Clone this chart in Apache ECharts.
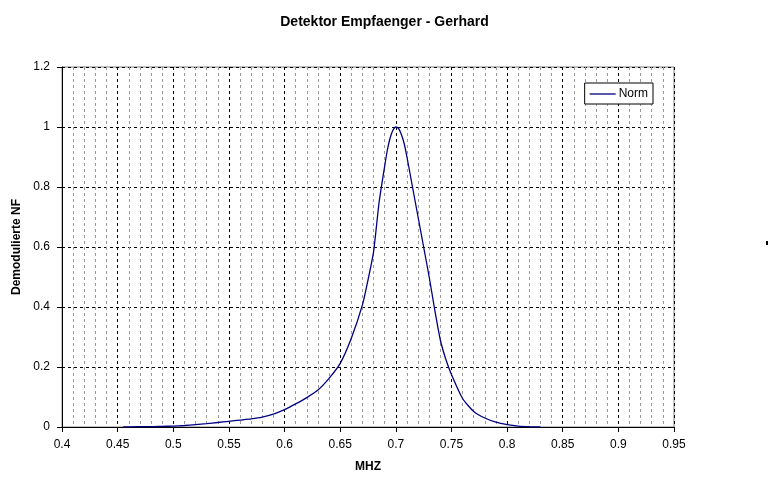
<!DOCTYPE html>
<html>
<head>
<meta charset="utf-8">
<title>Detektor Empfaenger - Gerhard</title>
<script src="https://cdn.jsdelivr.net/npm/echarts@6/dist/echarts.min.js"></script>
<style>
  html, body { margin: 0; padding: 0; background: #fff; }
  #chart { width: 769px; height: 490px; }
</style>
</head>
<body>
<div id="chart"></div>
<script>
// frequency in MHz
const freq = [0.455, 0.47, 0.48, 0.49, 0.5, 0.51, 0.52, 0.53, 0.54, 0.55, 0.56, 0.57, 0.58, 0.59,
  0.6, 0.61, 0.62, 0.63, 0.64, 0.65, 0.66, 0.67, 0.675, 0.68, 0.685, 0.69, 0.6925, 0.695, 0.6975,
  0.7, 0.7025, 0.705, 0.7075, 0.71, 0.715, 0.72, 0.725, 0.73, 0.735, 0.74, 0.745, 0.75, 0.76,
  0.77, 0.78, 0.79, 0.8, 0.81, 0.82, 0.83]
// normalised demodulated NF
const norm = [0, 0.001, 0.001, 0.002, 0.003, 0.005, 0.008, 0.011, 0.015, 0.019, 0.023, 0.027, 0.033, 0.043,
  0.058, 0.077, 0.098, 0.123, 0.162, 0.212, 0.296, 0.407, 0.49, 0.584, 0.75, 0.87, 0.925, 0.965, 0.99,
  1.0, 0.995, 0.975, 0.945, 0.9, 0.8, 0.7, 0.6, 0.5, 0.39, 0.29, 0.225, 0.175, 0.095,
  0.052, 0.03, 0.016, 0.008, 0.003, 0.001, 0]
const xTicks = { min: 0.4, max: 0.95, step: 0.05 }
const yTicks = { min: 0, max: 1.2, step: 0.2 }

const font = "'Liberation Sans', Arial, sans-serif"
const fmt = v => String(+v.toFixed(2))

const chart = echarts.init(document.getElementById('chart'))
chart.setOption({
  animation: false,
  backgroundColor: '#fff',
  title: {
    text: 'Detektor Empfaenger - Gerhard',
    left: 'center',
    top: 10,
    textStyle: { fontFamily: font, fontSize: 14, fontWeight: 'bold', color: '#000' }
  },
  legend: {
    data: [{ name: 'Norm', icon: 'rect' }],
    right: 116,
    top: 83,
    itemWidth: 26,
    itemHeight: 1.3,
    itemGap: 4,
    padding: [5, 5, 4, 5],
    borderColor: '#000',
    borderWidth: 1,
    borderRadius: 0,
    backgroundColor: '#fff',
    textStyle: { fontFamily: font, fontSize: 12, color: '#000', padding: [0, 0, 0, -2] }
  },
  grid: {
    left: 62, right: 95, top: 67, bottom: 63,
    show: true,
    borderColor: '#808080',
    borderWidth: 1
  },
  xAxis: {
    type: 'value',
    min: xTicks.min,
    max: xTicks.max,
    interval: xTicks.step,
    name: 'MHZ',
    nameLocation: 'middle',
    nameGap: 34,
    nameTextStyle: { fontFamily: font, fontSize: 12, fontWeight: 'bold', color: '#000' },
    axisLine: { lineStyle: { color: '#000', width: 1 } },
    axisTick: { show: true, length: 5, lineStyle: { color: '#000' } },
    axisLabel: { margin: 12, formatter: fmt, fontFamily: font, fontSize: 12, color: '#000' },
    splitLine: { show: true, lineStyle: { color: '#000', type: [3, 3], width: 1 } },
    minorTick: { show: false, splitNumber: 5 },
    minorSplitLine: { show: true, lineStyle: { color: '#999', type: [3, 3], width: 1 } }
  },
  yAxis: {
    type: 'value',
    min: yTicks.min,
    max: yTicks.max,
    interval: yTicks.step,
    name: 'Demodulierte NF',
    nameLocation: 'middle',
    nameRotate: 90,
    nameGap: 36,
    nameTextStyle: { fontFamily: font, fontSize: 12, fontWeight: 'bold', color: '#000' },
    axisLine: { show: true, lineStyle: { color: '#000', width: 1 } },
    axisTick: { show: true, length: 5, lineStyle: { color: '#000' } },
    axisLabel: { margin: 12, formatter: fmt, fontFamily: font, fontSize: 12, color: '#000' },
    splitLine: { show: true, lineStyle: { color: '#000', type: [3, 3], width: 1 } }
  },
  graphic: [
    { type: 'rect', left: 766, top: 241, shape: { width: 2, height: 4 }, style: { fill: '#000' } }
  ],
  series: [
    {
      name: 'Norm',
      type: 'line',
      data: freq.map((f, i) => [f, norm[i]]),
      symbol: 'none',
      smooth: 0.2,
      lineStyle: { color: '#000080', width: 1.3 },
      itemStyle: { color: '#000080' }
    }
  ]
})
</script>
</body>
</html>
